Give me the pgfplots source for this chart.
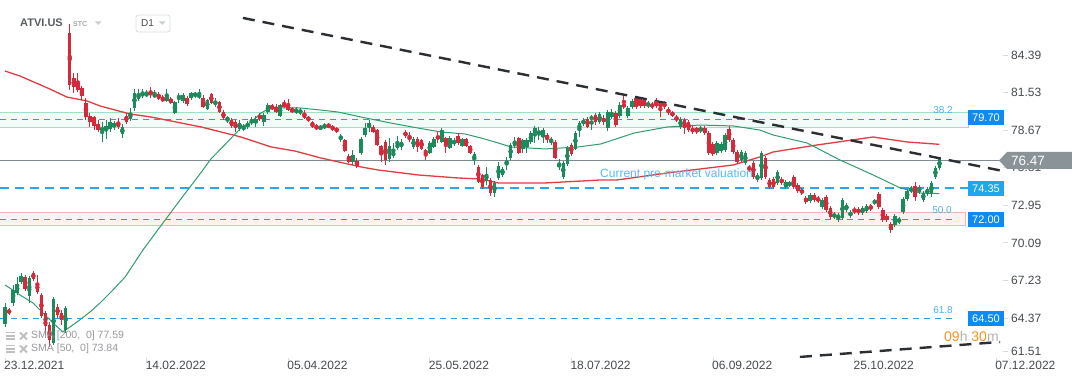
\documentclass[border=0pt]{standalone}
\usepackage{fontspec}
\setmainfont{Liberation Sans}
\usepackage{pgfplots}
\usepackage{pgfplotstable}
\pgfplotsset{compat=1.18}
\definecolor{labgray}{HTML}{444A50}
\definecolor{cup}{HTML}{1D8A5B}
\definecolor{cdn}{HTML}{D32B3B}
\definecolor{smaR}{HTML}{E23B40}
\definecolor{smaG}{HTML}{2E9D6B}
\definecolor{greyline}{HTML}{7F8A92}
\definecolor{blueDash}{HTML}{2AA6F0}
\definecolor{fibDash}{HTML}{2E9BE3}
\definecolor{bandGf}{HTML}{F2FBF7}
\definecolor{bandGb}{HTML}{A3DEC6}
\definecolor{bandRf}{HTML}{FDF2F2}
\definecolor{bandRb}{HTML}{F5B5B5}
\definecolor{boxblue}{HTML}{0E8AF3}
\definecolor{boxcyan}{HTML}{1FA7EE}
\definecolor{pricegrey}{HTML}{8A9398}
\definecolor{fibtxt}{HTML}{4BB0EC}
\definecolor{premk}{HTML}{55B9F2}
\definecolor{orng}{HTML}{F7931E}
\definecolor{hgray}{HTML}{B0B5B9}
\definecolor{trend}{HTML}{2B2F33}
\definecolor{ddd}{HTML}{C8CFD4}
\definecolor{legtxt}{HTML}{8A8D90}

\pgfplotstableread{
x o h l c
0 63.92 65.52 63.69 65.22
1 64.98 65.14 64.60 64.75
2 65.52 66.89 65.29 66.51
3 66.28 67.50 66.13 66.96
4 67.12 67.80 66.96 67.57
5 67.50 67.65 66.43 66.59
6 66.05 67.57 65.52 67.42
7 67.80 67.95 67.19 67.35
8 67.04 67.65 66.20 66.36
9 66.13 66.28 64.37 64.52
10 64.75 64.91 63.08 63.77
11 63.84 64.07 62.17 62.70
12 62.47 65.97 62.32 65.82
13 65.22 65.45 64.37 64.60
14 64.75 64.98 63.84 64.22
15 63.46 65.29 63.23 65.14
16 86.06 86.75 81.73 82.11
17 82.64 83.02 81.50 81.96
18 82.26 83.02 81.58 81.73
19 81.88 82.03 80.97 81.27
20 80.74 81.12 79.44 79.67
21 79.74 79.97 78.91 79.29
22 79.67 79.74 78.68 78.99
23 79.14 79.44 78.53 78.68
24 78.68 79.29 77.77 78.83
25 78.68 79.44 78.00 78.99
26 78.76 79.59 78.53 79.29
27 78.91 79.36 78.68 79.21
28 79.29 79.59 78.76 78.91
29 78.38 79.14 78.07 78.91
30 79.74 79.97 79.14 79.29
31 79.52 80.36 79.37 79.97
32 80.36 81.80 80.12 81.50
33 81.04 81.80 80.89 81.42
34 81.27 81.80 81.12 81.50
35 81.27 81.73 81.19 81.50
36 81.58 81.96 81.12 81.35
37 81.19 81.73 81.12 81.42
38 81.42 81.58 80.97 81.04
39 81.12 81.35 80.81 80.89
40 80.89 81.80 80.81 81.27
41 81.04 81.19 80.66 80.74
42 79.97 80.89 79.90 80.81
43 81.12 81.50 80.74 81.27
44 80.89 81.50 80.74 81.35
45 81.12 81.27 80.51 80.66
46 81.12 81.58 80.97 81.50
47 81.27 81.58 81.12 81.50
48 81.19 81.80 81.04 81.35
49 81.12 81.35 80.36 80.43
50 80.28 81.04 80.20 80.97
51 81.42 81.50 80.66 80.74
52 80.66 81.12 80.43 80.81
53 80.81 80.89 79.97 80.05
54 80.05 80.20 79.44 79.59
55 79.37 79.74 79.21 79.67
56 79.44 79.59 78.83 78.99
57 79.29 79.44 78.53 78.83
58 78.76 79.44 78.61 79.21
59 78.76 79.14 78.61 78.91
60 78.91 79.36 78.76 79.21
61 79.21 79.67 79.06 79.44
62 79.21 79.74 78.91 79.52
63 79.82 79.97 79.37 79.52
64 79.29 79.97 78.99 79.82
65 80.05 80.74 79.90 80.59
66 80.51 80.66 80.20 80.28
67 80.43 80.66 79.97 80.05
68 79.74 80.66 79.67 80.59
69 80.74 80.97 80.36 80.43
70 80.59 81.04 80.12 80.20
71 80.28 80.43 79.97 80.05
72 79.97 80.43 79.90 80.28
73 79.97 80.36 79.82 80.20
74 79.97 80.20 79.52 79.59
75 79.67 79.74 79.29 79.44
76 79.29 79.36 78.83 78.91
77 78.91 79.14 78.68 78.83
78 78.76 79.06 78.68 78.91
79 78.83 79.21 78.76 79.06
80 79.06 79.21 78.83 78.91
81 78.99 79.06 78.61 78.68
82 78.83 78.91 78.45 78.53
83 78.07 78.38 77.77 78.15
84 77.92 78.00 77.01 77.08
85 76.70 76.85 76.17 76.25
86 76.25 77.16 76.02 76.78
87 76.33 76.55 75.79 75.94
88 76.93 78.15 76.78 78.00
89 78.30 79.21 78.15 78.83
90 78.91 79.44 78.53 79.21
91 78.91 79.06 78.45 78.53
92 78.68 78.76 77.46 77.54
93 77.46 77.54 76.25 76.85
94 77.77 77.92 76.02 76.40
95 76.48 78.07 76.25 77.46
96 76.70 77.69 76.55 77.01
97 77.31 78.23 77.16 77.62
98 77.39 77.99 77.16 77.77
99 78.53 78.68 78.07 78.23
100 78.15 78.53 77.77 78.00
101 77.39 78.15 77.24 78.00
102 78.00 78.15 77.01 77.39
103 77.92 78.00 77.16 77.24
104 77.08 77.24 76.40 76.93
105 76.93 77.84 76.85 77.69
106 77.39 78.15 77.31 78.00
107 78.23 78.53 77.69 78.00
108 77.77 78.83 77.69 78.68
109 78.07 78.15 76.93 77.54
110 77.31 78.23 77.24 78.07
111 77.69 78.07 77.46 77.84
112 78.23 78.45 77.54 77.69
113 77.46 78.07 77.39 77.99
114 77.99 78.07 77.39 77.46
115 77.46 77.54 76.85 76.93
116 76.40 77.01 76.02 76.85
117 75.87 76.02 74.65 74.73
118 75.26 75.34 74.19 74.35
119 74.80 75.87 74.50 75.34
120 74.88 75.03 73.66 73.89
121 73.89 74.80 73.59 74.65
122 75.03 76.25 74.88 75.94
123 75.26 75.87 75.11 75.72
124 76.10 76.63 75.64 76.33
125 76.55 77.69 76.40 77.54
126 77.46 78.15 77.31 77.84
127 78.07 78.15 76.85 76.93
128 77.24 78.00 76.93 77.92
129 77.39 78.07 76.93 77.92
130 77.77 78.61 77.62 78.45
131 78.45 78.99 77.69 78.83
132 78.38 78.91 77.92 78.61
133 78.15 78.83 77.69 78.68
134 78.30 78.45 77.69 77.99
135 77.77 78.15 77.54 77.99
136 77.77 77.92 76.48 76.55
137 75.87 76.48 75.64 76.10
138 75.11 76.33 74.95 76.17
139 76.10 77.46 75.94 77.31
140 77.54 77.69 76.70 76.85
141 77.24 78.61 77.16 78.45
142 78.68 79.36 78.15 79.21
143 79.21 79.59 78.99 79.36
144 79.52 79.67 78.83 78.91
145 79.52 79.82 78.68 79.67
146 79.82 79.97 79.06 79.29
147 79.29 80.05 79.14 79.90
148 79.59 79.82 79.06 79.29
149 78.83 80.20 78.61 80.05
150 79.67 80.28 79.52 79.97
151 79.97 80.12 78.91 79.06
152 79.74 80.81 79.59 80.59
153 80.66 81.35 80.28 80.43
154 79.74 80.51 79.59 80.36
155 80.43 81.04 80.28 80.89
156 81.12 81.27 80.28 80.43
157 81.04 81.19 80.36 80.51
158 80.97 81.12 80.36 80.51
159 80.51 80.89 80.36 80.74
160 80.66 80.81 80.28 80.43
161 80.81 81.12 80.36 80.51
162 80.74 80.89 79.67 80.43
163 80.74 80.89 80.28 80.43
164 80.28 80.43 79.82 79.97
165 79.97 80.12 79.67 79.82
166 79.67 79.82 79.29 79.44
167 78.91 79.67 78.76 79.52
168 79.44 79.59 78.38 78.83
169 79.29 79.44 78.53 78.68
170 78.83 78.99 78.38 78.53
171 78.83 78.91 78.38 78.53
172 78.61 78.99 78.45 78.83
173 78.83 78.99 78.30 78.45
174 78.45 78.61 76.78 76.93
175 77.62 77.77 76.70 76.85
176 76.93 77.84 76.78 77.69
177 77.08 77.77 76.93 77.62
178 77.16 78.45 77.01 78.30
179 78.76 78.99 77.77 77.92
180 77.92 78.07 76.85 77.01
181 77.01 77.16 76.10 76.25
182 76.40 77.16 76.25 77.01
183 76.17 77.08 76.02 76.93
184 75.87 76.02 75.49 75.64
185 76.17 76.33 74.95 75.11
186 74.88 75.41 74.73 75.26
187 75.03 77.08 74.88 76.93
188 76.55 76.70 74.95 75.11
189 74.88 75.03 74.19 74.35
190 74.95 75.11 74.19 74.35
191 74.65 75.64 74.50 75.49
192 74.95 75.11 74.50 74.65
193 74.35 74.88 74.19 74.73
194 74.50 74.80 74.35 74.65
195 75.11 75.26 74.19 74.35
196 74.50 74.65 73.89 74.04
197 74.12 74.27 73.74 73.89
198 73.51 73.66 73.06 73.21
199 73.28 73.89 73.13 73.74
200 73.74 73.89 73.21 73.36
201 73.51 73.66 73.13 73.28
202 72.82 73.51 72.67 73.36
203 73.59 73.74 72.44 72.60
204 72.75 72.90 71.91 72.06
205 72.06 72.44 71.91 72.29
206 71.98 72.37 71.68 72.21
207 71.98 73.51 71.83 73.36
208 72.60 73.13 72.44 72.98
209 72.14 72.60 71.98 72.44
210 72.67 72.82 72.29 72.44
211 72.67 72.82 72.21 72.37
212 72.37 72.90 72.21 72.75
213 72.52 73.06 72.37 72.90
214 72.90 73.06 72.52 72.67
215 73.13 73.44 72.98 73.28
216 73.82 73.97 72.67 72.82
217 72.60 72.75 71.68 71.83
218 72.14 72.29 71.68 71.83
219 71.53 71.68 70.84 71.07
220 71.45 72.29 71.30 72.14
221 71.68 72.06 71.53 71.91
222 72.44 73.59 72.29 73.44
223 73.44 74.19 73.28 74.04
224 74.04 74.42 73.89 74.27
225 74.42 74.73 73.28 73.59
226 73.97 74.50 73.82 74.35
227 73.36 74.04 73.21 73.89
228 73.82 74.35 73.66 74.19
229 73.89 74.80 73.59 74.65
230 75.11 75.94 74.95 75.79
231 75.79 76.63 75.64 76.47
}\candles

\pgfplotstableread{
x y
0 83.17
3.7 82.79
11.1 81.80
15.3 81.19
20.3 80.89
23.5 80.51
30.9 79.90
36.1 79.67
48.5 78.91
58.3 78.15
65.8 77.39
71.7 77.08
78.1 76.55
88 75.87
92.2 75.64
102.1 75.26
112 75.03
117.7 74.95
121.9 74.65
133.5 74.65
147.3 74.88
151.3 74.88
163.7 75.41
180 76.02
186.6 76.63
189.9 77.01
200.7 77.54
214.6 78.15
223 77.77
231 77.59
}\smaA

\pgfplotstableread{
x y
0 66.89
3.7 66.13
6.9 65.52
9.4 64.75
11.9 63.99
14.3 63.31
17.8 64.07
21 64.83
23.5 65.52
26.7 66.51
29.7 67.50
34.1 69.55
38.3 71.30
43.3 73.36
48.2 75.34
50.9 76.48
54.4 77.58
58.3 78.83
60.8 79.29
63.3 79.97
65 80.28
68.2 80.36
72.9 80.36
78.1 80.20
82.3 80.05
88 79.67
95.4 79.21
102.1 78.83
107.8 78.53
113.7 78.38
117.7 78.07
121.1 77.77
125.1 77.39
133.5 77.24
141.7 77.39
147.3 77.62
155.5 78.45
163.7 78.91
171.8 79.06
180 78.99
186.6 78.68
189.9 78.30
198.3 77.69
206.4 76.40
214.6 75.26
221.3 74.27
226.2 73.89
231 73.84
}\smaB

\begin{document}
\begin{tikzpicture}[x=1pt,y=1pt]
\useasboundingbox (0,0) rectangle (1072,382);
\begin{axis}[
  at={(0pt,24pt)}, anchor=south west,
  width=1003pt, height=358pt, scale only axis,
  xmin=-1.24, xmax=246.7, ymin=61.33, ymax=88.576,
  axis line style={draw=none},
  xtick={0,35,70,105,140,175,210,245},
  xticklabels={23.12.2021,14.02.2022,05.04.2022,25.05.2022,18.07.2022,06.09.2022,25.10.2022,07.12.2022},
  ytick={61.85,64.37,67.23,70.09,72.95,75.81,78.67,81.53,84.39},
  yticklabels={61.51,64.37,67.23,70.09,72.95,75.81,78.67,81.53,84.39},
  xtick pos=left, ytick pos=right, tick align=outside,
  major tick length=5pt,
  tick style={draw=black!15, line width=0.8pt},
  xticklabel style={anchor=north west, inner sep=0pt, xshift=-1pt, yshift=2pt, font=\fontsize{12}{14}\selectfont, text=labgray},
  yticklabel style={anchor=west, inner sep=0pt, xshift=3pt, font=\fontsize{12}{14}\selectfont, text=labgray},
]
% bands
\addplot[forget plot, fill=bandGf, draw=bandGb, line width=1pt] coordinates {(-3,78.89) (238.1,78.89) (238.1,79.98) (-3,79.98)} -- cycle;
\addplot[forget plot, fill=bandRf, draw=bandRb, line width=1pt] coordinates {(-3,71.45) (237.4,71.45) (237.4,72.42) (-3,72.42)} -- cycle;
% horizontal lines
\addplot[forget plot, fibDash, line width=1pt, dash pattern=on 6pt off 5pt] coordinates {(-1.24,79.50) (235,79.50)};
\addplot[forget plot, fibDash, line width=1pt, dash pattern=on 6pt off 5pt] coordinates {(-1.24,71.89) (235,71.89)};
\addplot[forget plot, fibDash, line width=1pt, dash pattern=on 6pt off 5pt] coordinates {(-1.24,64.30) (235,64.30)};
\addplot[forget plot, blueDash, line width=1.5pt, dash pattern=on 9pt off 6pt] coordinates {(-1.24,74.25) (238.1,74.25)};
\addplot[forget plot, greyline, line width=1.2pt] coordinates {(-1.24,76.37) (246.7,76.37)};
% moving averages
\addplot[forget plot, smaR, line width=1.3pt] table[x=x,y=y] {\smaA};
\addplot[forget plot, smaG, line width=1pt] table[x=x,y=y] {\smaB};
% candles: wicks
\addplot[forget plot, cup, only marks, mark=none, restrict expr to domain={\thisrow{c}-\thisrow{o}}{0:100},
  error bars/.cd, y dir=both, y explicit, error mark=none, error bar style={cup, solid, line width=1pt}]
  table[x=x, y expr={0.5*(\thisrow{h}+\thisrow{l})}, y error expr={0.5*(\thisrow{h}-\thisrow{l})}] {\candles};
\addplot[forget plot, cdn, only marks, mark=none, restrict expr to domain={\thisrow{c}-\thisrow{o}}{-100:-0.0001},
  error bars/.cd, y dir=both, y explicit, error mark=none, error bar style={cdn, solid, line width=1pt}]
  table[x=x, y expr={0.5*(\thisrow{h}+\thisrow{l})}, y error expr={0.5*(\thisrow{h}-\thisrow{l})}] {\candles};
% candles: bodies
\addplot[forget plot, cup, only marks, mark=none, restrict expr to domain={\thisrow{c}-\thisrow{o}}{0:100},
  error bars/.cd, y dir=both, y explicit, error mark=none, error bar style={cup, solid, line width=3.5pt}]
  table[x=x, y expr={0.5*(\thisrow{o}+\thisrow{c})}, y error expr={max(0.5*abs(\thisrow{c}-\thisrow{o}),0.04)}] {\candles};
\addplot[forget plot, cdn, only marks, mark=none, restrict expr to domain={\thisrow{c}-\thisrow{o}}{-100:-0.0001},
  error bars/.cd, y dir=both, y explicit, error mark=none, error bar style={cdn, solid, line width=3.5pt}]
  table[x=x, y expr={0.5*(\thisrow{o}+\thisrow{c})}, y error expr={max(0.5*abs(\thisrow{c}-\thisrow{o}),0.04)}] {\candles};
% trend lines
\addplot[forget plot, trend, line width=2.4pt, dash pattern=on 12pt off 8pt] coordinates {(58.8,87.21) (246.7,75.56)};
\addplot[forget plot, trend, line width=2.4pt, dash pattern=on 12pt off 8pt] coordinates {(196.5,61.41) (246,62.55)};
\end{axis}
% right-hand price boxes
\fill[boxblue] (968,256.5) rectangle (1004,271.5);
\node[text=white, font=\fontsize{11}{12}\selectfont] at (986,264) {79.70};
\fill[boxcyan] (968,186) rectangle (1004,201);
\node[text=white, font=\fontsize{11}{12}\selectfont] at (986,193.5) {74.35};
\fill[boxblue] (968,155) rectangle (1004,170);
\node[text=white, font=\fontsize{11}{12}\selectfont] at (986,162.5) {72.00};
\fill[boxblue] (968,56) rectangle (1004,71);
\node[text=white, font=\fontsize{11}{12}\selectfont] at (986,63.5) {64.50};
\fill[pricegrey] (999,221.5) -- (1007,230) -- (1072,230) -- (1072,213) -- (1007,213) -- cycle;
\node[anchor=west, inner sep=0pt, text=white, font=\fontsize{13.5}{15}\selectfont] at (1011,221.5) {76.47};
% fibonacci labels
\node[text=fibtxt, font=\fontsize{10}{12}\selectfont] at (943,272) {38.2};
\node[text=fibtxt, font=\fontsize{10}{12}\selectfont] at (942,172) {50.0};
\node[text=fibtxt, font=\fontsize{10}{12}\selectfont] at (943,72) {61.8};
\node[anchor=west, inner sep=0pt, text=premk, font=\fontsize{12}{14}\selectfont] at (600,208) {Current pre-market valuation};
% header
\node[anchor=west, inner sep=0pt, text=labgray!90, font=\bfseries\fontsize{11}{13}\selectfont] at (20,359) {ATVI.US};
\node[anchor=west, inner sep=0pt, text=ddd!80!black, font=\bfseries\fontsize{7}{8}\selectfont] at (73,357.5) {STC};
\fill[ddd] (95,360.5) -- (101.5,360.5) -- (98.25,357) -- cycle;
\draw[ddd!70, rounded corners=2.5pt, line width=0.8pt] (136,367) rectangle (170,350);
\node[anchor=west, inner sep=0pt, text=labgray, font=\fontsize{10}{12}\selectfont] at (141,358.5) {D1};
\fill[ddd] (159,360.5) -- (165.5,360.5) -- (162.25,357) -- cycle;
% indicator legend
\foreach \yy/\txt in {46/{SMA [200,\ \ 0] 77.59}, 33/{SMA [50,\ \ 0] 73.84}} {
  \fill[legtxt!70, opacity=0.8] (6,\yy+2.5) rectangle (15,\yy+4);
  \fill[legtxt!70, opacity=0.8] (6,\yy-0.7) rectangle (15,\yy+0.8);
  \fill[legtxt!70, opacity=0.8] (6,\yy-4) rectangle (15,\yy-2.5);
  \draw[legtxt!70, opacity=0.8, line width=1.8pt] (20,\yy-3.5) -- (27,\yy+3.5) (20,\yy+3.5) -- (27,\yy-3.5);
  \node[anchor=west, inner sep=0pt, text=legtxt, opacity=0.9, font=\fontsize{10.5}{12}\selectfont] at (31,\yy) {\txt};
}
% countdown
\node[anchor=west, inner sep=0pt, font=\fontsize{14}{16}\selectfont] at (944,45) {\textcolor{orng}{09}\textcolor{hgray}{h} \textcolor{orng}{30}\textcolor{hgray}{m}};
\end{tikzpicture}
\end{document}
